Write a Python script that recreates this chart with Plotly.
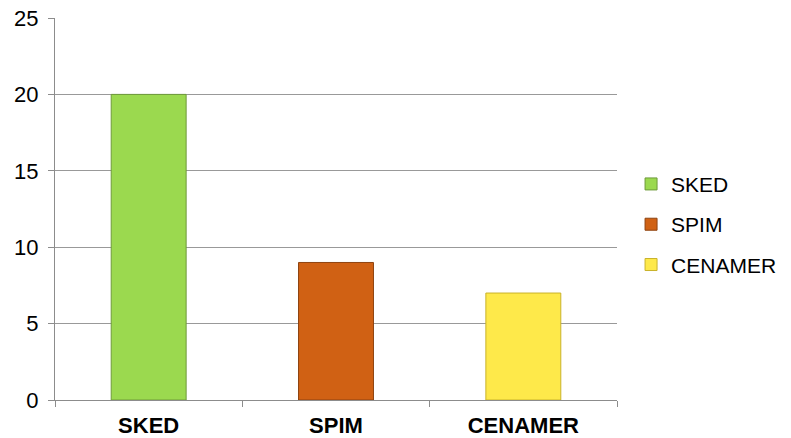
import plotly.graph_objects as go

categories = ["SKED", "SPIM", "CENAMER"]
values = [20, 9, 7]
colors = ["#9BD94F", "#D06114", "#FEE94A"]
line_colors = ["#6E9A3A", "#8E4310", "#C9B22A"]
y_ticks = [0, 5, 10, 15, 20, 25]

fig = go.Figure()
for i, (c, v) in enumerate(zip(categories, values)):
    fig.add_trace(go.Bar(
        x=[c], y=[v], name=c, width=0.4,
        marker=dict(color=colors[i], line=dict(color=line_colors[i], width=1)),
        legendgroup=c,
    ))

fig.update_layout(
    width=791, height=438,
    margin=dict(l=55, r=174, t=18, b=38, autoexpand=False),
    paper_bgcolor="white", plot_bgcolor="white",
    barmode="overlay",
    font=dict(family="Liberation Sans, Arial, sans-serif", color="#000"),
    legend=dict(x=1.025, y=0.46, xanchor="left", yanchor="middle",
                font=dict(size=21), tracegroupgap=10, itemwidth=30),
    showlegend=True,
)
fig.update_xaxes(
    categoryorder="array", categoryarray=categories,
    showline=True, linecolor="#8c8c8c", linewidth=1,
    ticks="outside", tickson="boundaries", ticklen=6, tickcolor="#8c8c8c",
    tickfont=dict(size=22, family="Liberation Sans, Arial, sans-serif", weight="bold"),
    ticklabelstandoff=6,
    showgrid=False, automargin=False,
)
fig.update_yaxes(
    range=[0, 25], tickvals=y_ticks,
    showline=True, linecolor="#8c8c8c", linewidth=1,
    ticks="outside", ticklen=6, tickcolor="#8c8c8c",
    gridcolor="#999999", gridwidth=1,
    tickfont=dict(size=22), ticklabelstandoff=5,
    zeroline=False, automargin=False,
)
fig.write_html("out.html", post_script="document.body.style.margin='0';",
               config={"displayModeBar": False})
